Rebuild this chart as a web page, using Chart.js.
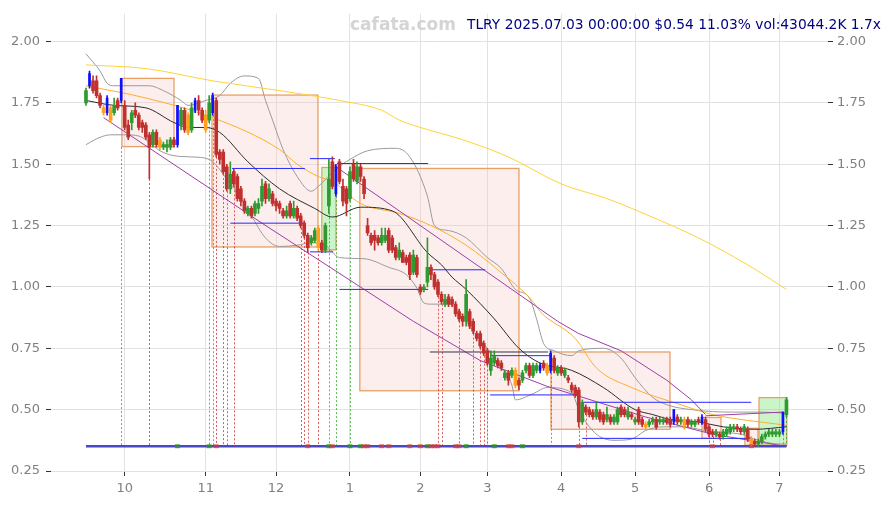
<!DOCTYPE html>
<html>
<head>
<meta charset="utf-8">
<script src="https://cdn.jsdelivr.net/npm/chart.js@4.4.1/dist/chart.umd.min.js"></script>
<style>
  html, body { margin: 0; padding: 0; background: #fff; overflow: hidden; }
  #wrap { position: relative; width: 891px; height: 505px; overflow: hidden; }
  #brand { position: absolute; left: 350px; top: 14px; font: bold 17px "DejaVu Sans", sans-serif; color: #d4d4d4; }
  #info { position: absolute; left: 467px; top: 16px; font: 13.8px "DejaVu Sans", sans-serif; color: #000080; white-space: nowrap; }
</style>
</head>
<body>
<div id="wrap">
  <canvas id="chart" width="891" height="505"></canvas>
  <div id="brand">cafata.com</div>
  <div id="info">TLRY 2025.07.03 00:00:00 $0.54 11.03% vol:43044.2K 1.7x</div>
</div>
<script>
(function () {
  'use strict';

  // x axis = trading day index (0 = 2024-09-16 ... 199 = 2025-07-03)
  const monthIdx = [11, 34, 54, 75, 95, 114, 135, 156, 177, 197];
  const monthLabels = ['10', '11', '12', '1', '2', '3', '4', '5', '6', '7'];
  const priceTicks = [0.25, 0.5, 0.75, 1.0, 1.25, 1.5, 1.75, 2.0];

  // daily candles
  const opens = [
    1.75,1.82,1.84,1.84,1.78,1.73,1.71,1.73,1.71,1.76, 1.76,1.74,1.66,1.67,1.72,1.70,1.67,1.66,1.62,1.58,
    1.63,1.60,1.57,1.57,1.57,1.60,1.58,1.66,1.72,1.70, 1.64,1.72,1.76,1.72,1.70,1.68,1.71,1.76,1.55,1.55,
    1.49,1.40,1.47,1.45,1.40,1.35,1.30,1.32,1.30,1.32, 1.35,1.42,1.36,1.38,1.35,1.34,1.31,1.29,1.34,1.29,
    1.32,1.29,1.26,1.21,1.18,1.19,1.24,1.18,1.15,1.33, 1.51,1.38,1.51,1.41,1.40,1.36,1.50,1.43,1.49,1.44,
    1.25,1.21,1.21,1.20,1.18,1.19,1.23,1.20,1.16,1.12, 1.14,1.12,1.13,1.06,1.12,1.00,0.99,1.02,1.08,1.05,
    1.02,0.97,0.93,0.96,0.95,0.93,0.90,0.88,0.86,0.90, 0.86,0.81,0.81,0.77,0.74,0.66,0.69,0.70,0.69,0.63,
    0.65,0.64,0.66,0.62,0.62,0.66,0.68,0.64,0.66,0.66, 0.69,0.68,0.66,0.71,0.65,0.67,0.64,0.63,0.60,0.59,
    0.58,0.45,0.51,0.50,0.49,0.47,0.49,0.48,0.46,0.47, 0.45,0.45,0.51,0.50,0.47,0.48,0.45,0.50,0.46,0.44,
    0.44,0.45,0.46,0.45,0.45,0.46,0.46,0.45,0.47,0.45, 0.46,0.46,0.44,0.44,0.46,0.45,0.46,0.43,0.41,0.40,
    0.40,0.39,0.40,0.41,0.42,0.43,0.42,0.41,0.42,0.38, 0.37,0.36,0.37,0.39,0.40,0.40,0.40,0.40,0.41,0.48
  ];
  const highs = [
    1.81,1.88,1.86,1.86,1.79,1.74,1.78,1.74,1.77,1.77, 1.85,1.76,1.68,1.72,1.75,1.71,1.68,1.67,1.63,1.64,
    1.64,1.61,1.59,1.60,1.61,1.61,1.74,1.73,1.73,1.71, 1.75,1.77,1.78,1.73,1.72,1.78,1.79,1.77,1.56,1.56,
    1.50,1.51,1.48,1.46,1.41,1.36,1.33,1.33,1.35,1.36, 1.44,1.43,1.42,1.39,1.36,1.35,1.32,1.33,1.35,1.35,
    1.33,1.30,1.27,1.22,1.21,1.24,1.25,1.19,1.26,1.52, 1.53,1.50,1.52,1.44,1.41,1.49,1.52,1.51,1.50,1.45,
    1.28,1.22,1.23,1.21,1.24,1.24,1.24,1.21,1.17,1.18, 1.15,1.13,1.14,1.15,1.13,1.01,1.01,1.20,1.09,1.06,
    1.03,0.98,0.97,0.97,0.96,0.94,0.91,0.89,1.03,0.91, 0.87,0.82,0.82,0.78,0.75,0.74,0.74,0.71,0.70,0.66,
    0.66,0.67,0.67,0.63,0.66,0.69,0.69,0.69,0.69,0.69, 0.70,0.69,0.74,0.72,0.68,0.68,0.67,0.64,0.61,0.60,
    0.59,0.54,0.52,0.51,0.50,0.53,0.50,0.49,0.51,0.48, 0.48,0.51,0.52,0.51,0.51,0.49,0.47,0.51,0.47,0.45,
    0.46,0.47,0.47,0.47,0.47,0.47,0.47,0.50,0.48,0.47, 0.47,0.47,0.46,0.46,0.47,0.48,0.47,0.44,0.42,0.42,
    0.41,0.42,0.43,0.44,0.44,0.44,0.43,0.44,0.43,0.39, 0.38,0.38,0.40,0.41,0.42,0.42,0.42,0.42,0.49,0.55
  ];
  const lows = [
    1.74,1.81,1.79,1.77,1.73,1.70,1.70,1.67,1.70,1.72, 1.75,1.64,1.60,1.64,1.69,1.64,1.63,1.60,1.44,1.57,
    1.57,1.56,1.56,1.55,1.56,1.57,1.57,1.64,1.63,1.62, 1.63,1.71,1.70,1.67,1.63,1.67,1.70,1.53,1.50,1.46,
    1.39,1.38,1.41,1.35,1.33,1.30,1.29,1.28,1.29,1.30, 1.33,1.34,1.35,1.33,1.31,1.30,1.28,1.28,1.28,1.28,
    1.27,1.24,1.20,1.14,1.17,1.18,1.15,1.14,1.14,1.30, 1.40,1.37,1.42,1.33,1.29,1.35,1.43,1.42,1.43,1.36,
    1.21,1.17,1.15,1.17,1.17,1.18,1.14,1.14,1.11,1.11, 1.10,1.09,1.03,1.05,1.04,0.97,0.98,1.00,1.03,0.99,
    0.96,0.93,0.92,0.92,0.92,0.88,0.86,0.84,0.84,0.83, 0.81,0.78,0.75,0.72,0.68,0.64,0.68,0.67,0.66,0.62,
    0.60,0.63,0.59,0.58,0.61,0.65,0.63,0.63,0.65,0.65, 0.66,0.64,0.65,0.65,0.64,0.64,0.63,0.61,0.57,0.55,
    0.43,0.44,0.48,0.47,0.46,0.46,0.45,0.44,0.45,0.44, 0.44,0.44,0.47,0.47,0.46,0.46,0.44,0.44,0.43,0.42,
    0.43,0.44,0.42,0.44,0.44,0.44,0.43,0.44,0.44,0.44, 0.42,0.43,0.43,0.43,0.44,0.44,0.41,0.39,0.39,0.39,
    0.38,0.38,0.39,0.40,0.41,0.41,0.40,0.40,0.37,0.35, 0.35,0.35,0.36,0.38,0.39,0.39,0.39,0.39,0.40,0.47
  ];
  const closes = [
    1.80,1.87,1.80,1.78,1.74,1.71,1.77,1.68,1.74,1.73, 1.85,1.65,1.61,1.71,1.70,1.65,1.65,1.61,1.57,1.63,
    1.58,1.57,1.58,1.58,1.60,1.58,1.74,1.72,1.64,1.63, 1.73,1.76,1.72,1.68,1.64,1.75,1.78,1.54,1.52,1.47,
    1.40,1.46,1.42,1.36,1.35,1.31,1.32,1.29,1.34,1.34, 1.41,1.36,1.40,1.34,1.33,1.32,1.29,1.31,1.29,1.32,
    1.28,1.25,1.21,1.16,1.20,1.23,1.16,1.15,1.25,1.44, 1.41,1.49,1.43,1.35,1.34,1.47,1.44,1.49,1.45,1.38,
    1.22,1.18,1.19,1.18,1.21,1.21,1.15,1.15,1.12,1.15, 1.10,1.10,1.05,1.13,1.05,0.98,1.00,1.08,1.05,1.00,
    0.97,0.94,0.95,0.93,0.93,0.89,0.87,0.86,0.97,0.84, 0.82,0.79,0.76,0.73,0.69,0.71,0.72,0.68,0.67,0.65,
    0.62,0.66,0.60,0.60,0.65,0.68,0.64,0.68,0.68,0.68, 0.67,0.65,0.73,0.66,0.67,0.65,0.66,0.62,0.58,0.56,
    0.45,0.53,0.49,0.48,0.47,0.50,0.46,0.45,0.48,0.45, 0.47,0.50,0.48,0.48,0.49,0.47,0.46,0.45,0.44,0.43,
    0.45,0.46,0.43,0.46,0.46,0.45,0.44,0.50,0.45,0.46, 0.43,0.44,0.45,0.45,0.45,0.47,0.42,0.40,0.40,0.41,
    0.39,0.41,0.42,0.43,0.43,0.42,0.41,0.43,0.38,0.36, 0.36,0.37,0.39,0.40,0.41,0.41,0.41,0.41,0.49,0.54
  ];
  // G up, R down, O warning candle, B breakout candle
  const candleKind = (
    'GBRRROBOGR' + 'BRRGRRRRRG' + 'ROGGGRBGRO' + 'GBRROGBRRR' + 'RGRRRRGRGG' +
    'GRGRRRRGRG' + 'RRRRGGORGG' + 'RBRRRGRGRR' + 'RRRRGGRRRG' + 'RRRGRRGGRR' +
    'RRGRRRRRGR' + 'RRRRRGGRRG' + 'RGORGGRGGB' + 'ROBRGRGRRR' + 'RGRRRGRRGR' +
    'GGRRGRGRRO' + 'GGRGGRRBRG' + 'ORGGRBRRRG' + 'RGGGGRRGRO' + 'RGGGGGGGBG'
  ).split('');

  // moving averages (read at sample days)
  const ma200Idx = [0, 17, 36, 55, 72, 84, 89, 95, 107, 120, 135, 148, 160, 174, 188, 199];
  const ma200Val = [1.905, 1.89, 1.84, 1.80, 1.76, 1.72, 1.68, 1.65, 1.60, 1.53, 1.42, 1.36, 1.29, 1.20, 1.09, 0.99];
  const ma50Idx = [0, 17, 36, 55, 60, 66, 70, 78, 89, 98, 108, 117, 127, 129, 139, 145, 155, 169, 178, 188, 197, 199];
  const ma50Val = [1.82, 1.77, 1.69, 1.56, 1.50, 1.45, 1.43, 1.34, 1.30, 1.25, 1.17, 1.07, 0.94, 0.90, 0.79, 0.67, 0.59, 0.52, 0.48, 0.456, 0.44, 0.435];
  const ma20Idx = [0, 8, 17, 25, 29, 34, 38, 46, 55, 65, 70, 78, 87, 97, 101, 104, 108, 116, 123, 129, 138, 147, 156, 161, 166, 174, 181, 190, 199];
  const ma20Val = [1.76, 1.74, 1.73, 1.67, 1.65, 1.65, 1.63, 1.51, 1.40, 1.32, 1.285, 1.325, 1.31, 1.14, 1.09, 1.04, 0.99, 0.87, 0.75, 0.69, 0.66, 0.59, 0.50, 0.48, 0.46, 0.45, 0.43, 0.42, 0.43];
  const bandUpIdx = [0, 4, 6, 8, 14, 18, 22, 27, 29, 34, 38, 41, 45, 49, 51, 53, 56, 60, 64, 66, 71, 75, 80, 88, 92, 97, 99, 103, 108, 114, 118, 122, 126, 128, 130, 133, 138, 140, 147, 152, 156, 161, 165, 172, 184, 192, 199];
  const bandUpVal = [1.95, 1.88, 1.83, 1.82, 1.82, 1.82, 1.80, 1.76, 1.74, 1.76, 1.78, 1.83, 1.86, 1.85, 1.76, 1.68, 1.56, 1.45, 1.39, 1.41, 1.48, 1.52, 1.555, 1.565, 1.53, 1.37, 1.25, 1.23, 1.20, 1.12, 1.075, 0.99, 0.955, 0.87, 0.77, 0.74, 0.72, 0.74, 0.75, 0.71, 0.63, 0.55, 0.52, 0.50, 0.49, 0.49, 0.485];
  const bandLoIdx = [0, 4, 7, 11, 15, 17, 21, 25, 30, 35, 40, 44, 47, 51, 55, 60, 64, 68, 72, 79, 86, 91, 94, 96, 98, 103, 106, 110, 114, 118, 121, 122, 127, 131, 138, 140, 143, 146, 150, 155, 159, 164, 169, 178, 186, 191, 197, 199];
  const bandLoVal = [1.58, 1.61, 1.62, 1.62, 1.615, 1.60, 1.555, 1.535, 1.53, 1.52, 1.44, 1.36, 1.29, 1.20, 1.165, 1.17, 1.18, 1.17, 1.12, 1.115, 1.08, 1.05, 0.995, 0.935, 0.93, 0.93, 0.90, 0.82, 0.75, 0.67, 0.60, 0.54, 0.565, 0.59, 0.57, 0.50, 0.43, 0.39, 0.375, 0.38, 0.415, 0.43, 0.43, 0.41, 0.40, 0.375, 0.36, 0.36];

  // trend channel
  const trendLoIdx = [5, 50, 93, 112, 131, 140, 159, 178, 199];
  const trendLoVal = [1.69, 1.26, 0.86, 0.70, 0.595, 0.555, 0.47, 0.40, 0.35];
  const trendHiIdx = [70, 134, 140, 152, 165, 172, 176];
  const trendHiVal = [1.50, 0.86, 0.81, 0.74, 0.62, 0.54, 0.48];
  const trendFlatIdx = [176, 198];
  const trendFlatVal = [0.475, 0.49];

  // support / resistance segments
  const levelFrom = [63.6, 71.3, 41.5, 41, 63.6, 72, 98.3, 114.8, 114.8, 141, 141];
  const levelTo = [70.7, 97.2, 62.2, 62.2, 70.2, 97.2, 113.4, 132.4, 139.5, 189, 189];
  const levelPrice = [1.523, 1.503, 1.483, 1.26, 1.143, 0.99, 1.07, 0.72, 0.56, 0.53, 0.383];
  const pivotFrom = [97.7];
  const pivotTo = [131.3];
  const pivotPrice = [0.735];

  // boxes
  const boxFrom = [10.2, 35.8, 67, 77.8, 132.1, 175, 187.2, 191.2];
  const boxTo = [25, 65.9, 71, 123, 165.9, 180.4, 190.9, 199.1];
  const boxTop = [1.85, 1.782, 1.487, 1.483, 0.735, 0.468, 0.424, 0.549];
  const boxBottom = [1.572, 1.163, 1.151, 0.577, 0.42, 0.383, 0.355, 0.355];
  const boxKind = ['loss', 'loss', 'gain', 'loss', 'loss', 'loss', 'loss', 'gain'];

  // signals
  const basePrice = 0.351;
  const sigIdx = [10, 18, 35, 36, 37, 39, 40, 42, 61, 62, 63, 66, 69, 71, 75, 100, 101, 106, 110, 112, 113, 114, 132, 140, 142, 177, 178, 180, 189, 198, 199];
  const sigTop = [1.57, 1.44, 1.67, 1.70, 1.53, 1.46, 1.39, 1.41, 1.24, 1.20, 1.14, 1.15, 1.30, 1.37, 1.35, 0.96, 0.93, 0.86, 0.81, 0.75, 0.72, 0.68, 0.65, 0.43, 0.48, 0.39, 0.39, 0.38, 0.35, 0.40, 0.47];
  const sigSide = ['buy', 'sell', 'buy', 'buy', 'sell', 'sell', 'sell', 'sell', 'sell', 'sell', 'sell', 'sell', 'buy', 'buy', 'buy', 'sell', 'sell', 'sell', 'sell', 'sell', 'sell', 'sell', 'buy', 'sell', 'sell', 'sell', 'sell', 'sell', 'sell', 'buy', 'buy'];
  const markIdx = [26, 35, 37, 63, 69, 70, 75, 78, 79, 80, 84, 86, 92, 95, 97, 98, 99, 100, 105, 106, 108, 116, 120, 121, 124, 140, 178, 189];
  const markSide = ['buy', 'buy', 'sell', 'sell', 'buy', 'sell', 'buy', 'buy', 'sell', 'sell', 'sell', 'sell', 'sell', 'sell', 'buy', 'sell', 'sell', 'sell', 'sell', 'sell', 'buy', 'buy', 'sell', 'sell', 'buy', 'sell', 'sell', 'sell'];

  const kindColor = { G: '#2f9a2f', R: '#c0302e', O: '#ffa11c', B: '#1010ff' };
  const FONT = '"DejaVu Sans", sans-serif';

  function pts(xs, ys) { return xs.map((x, k) => ({ x: x, y: ys[k] })); }

  function lineSet(xs, ys, color, width, order, smooth) {
    return {
      type: 'line', data: pts(xs, ys), borderColor: color, borderWidth: width,
      pointRadius: 0, fill: false, order: order,
      cubicInterpolationMode: smooth ? 'monotone' : 'default', tension: 0
    };
  }

  const normal = [], special = [];
  candleKind.forEach((k, i) => { (k === 'B' ? special : normal).push(i); });

  const datasets = [];

  // candles
  datasets.push({
    type: 'bar', order: 1, grouped: false, barThickness: 1,
    data: opens.map((_, i) => ({ x: i, y: [lows[i], highs[i]] })),
    backgroundColor: candleKind.map(k => kindColor[k])
  });
  datasets.push({
    type: 'bar', order: 0, grouped: false, barThickness: 3, minBarLength: 1,
    data: normal.map(i => ({ x: i, y: [opens[i], closes[i]] })),
    backgroundColor: normal.map(i => kindColor[candleKind[i]])
  });
  datasets.push({
    type: 'bar', order: 0, grouped: false, barThickness: 2, minBarLength: 1,
    data: special.map(i => ({ x: i, y: [opens[i], closes[i]] })),
    backgroundColor: kindColor.B
  });

  // indicators
  datasets.push(lineSet(ma200Idx, ma200Val, '#ffd23a', 1, 5, true));
  datasets.push(lineSet(ma50Idx, ma50Val, '#ffad2a', 1, 5, true));
  datasets.push(lineSet(bandUpIdx, bandUpVal, '#9a9a9a', 1, 6, true));
  datasets.push(lineSet(bandLoIdx, bandLoVal, '#9a9a9a', 1, 6, true));
  datasets.push(lineSet(ma20Idx, ma20Val, '#2a2a2a', 1, 4, true));
  datasets.push(lineSet(trendLoIdx, trendLoVal, '#a03ca8', 1, 4, false));
  datasets.push(lineSet(trendHiIdx, trendHiVal, '#a03ca8', 1, 4, false));
  datasets.push(lineSet(trendFlatIdx, trendFlatVal, '#a03ca8', 1, 4, false));
  levelFrom.forEach((f, k) => {
    datasets.push(lineSet([f, levelTo[k]], [levelPrice[k], levelPrice[k]], '#2626ff', 1, 3, false));
  });
  pivotFrom.forEach((f, k) => {
    datasets.push(lineSet([f, pivotTo[k]], [pivotPrice[k], pivotPrice[k]], '#333344', 1, 3, false));
  });
  datasets.push(lineSet([0, 199], [basePrice, basePrice], '#4848c8', 2.5, 2, false));

  const overlay = {
    id: 'overlay',
    beforeDatasetsDraw(chart) {
      const { ctx, chartArea, scales } = chart;
      const x = scales.x, y = scales.y;
      ctx.save();
      ctx.beginPath();
      ctx.rect(chartArea.left, chartArea.top, chartArea.width, chartArea.height);
      ctx.clip();
      boxFrom.forEach((f, k) => {
        const x0 = x.getPixelForValue(f), x1 = x.getPixelForValue(boxTo[k]);
        const y0 = y.getPixelForValue(boxTop[k]), y1 = y.getPixelForValue(boxBottom[k]);
        ctx.fillStyle = boxKind[k] === 'gain' ? 'rgba(120,230,120,0.4)' : 'rgba(250,200,200,0.3)';
        ctx.fillRect(x0, y0, x1 - x0, y1 - y0);
        ctx.strokeStyle = '#e8a066';
        ctx.lineWidth = 1.3;
        ctx.strokeRect(x0, y0, x1 - x0, y1 - y0);
      });
      ctx.lineWidth = 1;
      ctx.setLineDash([2, 2]);
      sigIdx.forEach((s, k) => {
        const px = Math.round(x.getPixelForValue(s)) + 0.5;
        ctx.strokeStyle = sigSide[k] === 'buy' ? 'rgba(40,160,40,0.75)' : 'rgba(200,40,40,0.75)';
        ctx.beginPath();
        ctx.moveTo(px, y.getPixelForValue(sigTop[k]));
        ctx.lineTo(px, y.getPixelForValue(basePrice));
        ctx.stroke();
      });
      ctx.restore();
    },
    afterDatasetsDraw(chart) {
      const { ctx, scales } = chart;
      const x = scales.x, y = scales.y;
      ctx.save();
      markIdx.forEach((m, k) => {
        const px = x.getPixelForValue(m), py = y.getPixelForValue(basePrice);
        ctx.fillStyle = markSide[k] === 'buy' ? 'rgba(40,150,40,0.8)' : 'rgba(210,60,60,0.7)';
        ctx.fillRect(px - 2.5, py - 2, 5, 4);
      });
      ctx.restore();
    }
  };

  const yAxis = (pos) => ({
    type: 'linear', position: pos, min: 0.25, max: 2.1132,
    afterBuildTicks: (s) => { s.ticks = priceTicks.map(v => ({ value: v })); },
    afterFit: (s) => { s.width = pos === 'left' ? 51 : 63; },
    border: { display: false },
    grid: { offset: false, color: '#e2e2e2', tickColor: '#333', tickLength: 5, drawOnChartArea: pos === 'left' },
    ticks: { color: '#808080', padding: pos === 'left' ? 6 : 4, font: { family: FONT, size: 13 }, callback: (v) => Number(v).toFixed(2) }
  });

  new Chart(document.getElementById('chart'), {
    type: 'bar',
    data: { datasets: datasets },
    options: {
      responsive: false,
      animation: false,
      events: [],
      layout: { padding: { top: 10, left: 0, right: 0, bottom: 0 } },
      plugins: { legend: { display: false }, tooltip: { enabled: false } },
      scales: {
        x: {
          type: 'linear', offset: false, min: -9.94, max: 210.8,
          afterBuildTicks: (s) => { s.ticks = monthIdx.map(v => ({ value: v })); },
          afterFit: (s) => { s.height = 34; },
          border: { display: false },
          grid: { offset: false, color: '#e2e2e2', tickColor: '#333', tickLength: 5 },
          ticks: {
            color: '#808080', padding: 5, maxRotation: 0, autoSkip: false,
            font: { family: FONT, size: 13 },
            callback: (v) => { const k = monthIdx.indexOf(v); return k >= 0 ? monthLabels[k] : ''; }
          }
        },
        y: yAxis('left'),
        y2: yAxis('right')
      }
    },
    plugins: [overlay]
  });
})();
</script>
</body>
</html>
